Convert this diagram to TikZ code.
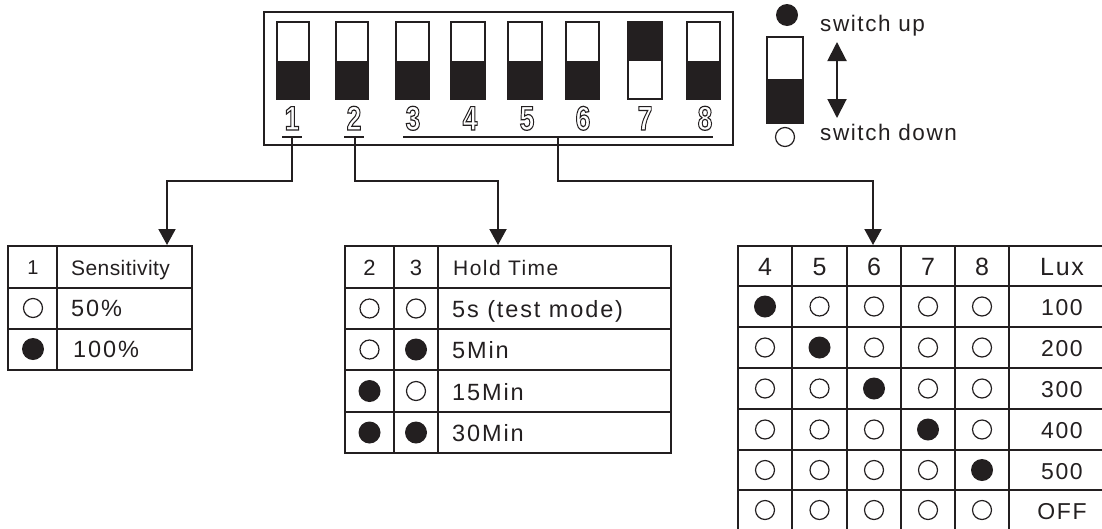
\documentclass[tikz,border=0pt]{standalone}
\usepackage{fontspec}
\setmainfont{Liberation Sans}
\newfontfamily\fsp{Liberation Sans}[LetterSpace=8]
\newfontfamily\fsh{Liberation Sans}[LetterSpace=7]
\newfontfamily\fss{Liberation Sans}[LetterSpace=2]
\usepackage{graphicx}
\usetikzlibrary{arrows.meta,calc}
\definecolor{ink}{RGB}{35,31,32}
\newcommand{\outlinedigit}[1]{\special{pdf:code q 1 Tr 1.2 w 0.137 0.122 0.125 RG}#1\special{pdf:code Q}}
\begin{document}
\begin{tikzpicture}[x=1pt,y=-1pt,
  boxst/.style={draw=ink,line width=2pt,inner sep=0pt},
  swst/.style={draw=ink,line width=2.5pt},
  barst/.style={draw=ink,line width=1.5pt},
  tline/.style={draw=ink,line width=1.6pt},
  conn/.style={draw=ink,line width=2pt,-{Triangle[width=17pt,length=16pt]}},
  oc/.style={circle,draw=ink,line width=1.2pt,minimum size=19pt,inner sep=0pt},
  fc/.style={circle,fill=ink,minimum size=22pt,inner sep=0pt},
  dig/.style={font=\fontsize{34}{38}\selectfont\bfseries,inner sep=0pt,anchor=base},
  rtxt/.style={font=\fontsize{23.5}{27}\fsp,text=ink,inner sep=0pt},
  htxt/.style={font=\fontsize{21}{25}\fsh,text=ink,inner sep=0pt},
  ttxt/.style={font=\fontsize{23}{26}\fsh,text=ink,inner sep=0pt},
  lgd/.style={font=\fontsize{22.5}{26}\fsh,text=ink,inner sep=0pt,anchor=base west}]
\useasboundingbox (0,0) rectangle (1102,528);

% ---------- DIP switch box ----------
\node[boxst,minimum width=469pt,minimum height=133pt] (box) at (498.5,78.5) {};
\foreach \l/\r/\a/\b/\c/\n in {277/309/61/99/292/1,336/368/61/99/354/2,396/429/61/99/413/3,451/485/61/99/470/4,508/542/61/99/527/5,566/599/61/99/583/6,628/662/22/61/645/7,687/720/61/99/705/8}{
  \fill[ink] (\l,\a) rectangle (\r,\b);
  \draw[swst] (\l,22) rectangle (\r,99);
  \node[dig] (d\n) at (\c,130) {\scalebox{0.78}[1]{\outlinedigit{\n}}};
}
% bars under the numbers
\draw[barst] (282,137) -- (302,137);
\draw[barst] (344,137) -- (364,137);
\draw[barst] (403,137) -- (713,137);
\coordinate (b1) at (292,137);
\coordinate (b2) at (355,137);
\coordinate (b3) at (558,137);
\coordinate (jy) at (0,181);
\coordinate (a1) at (167,245);
\coordinate (a2) at (498,245);
\coordinate (a3) at (873,245);
\draw[conn] (b1) -- (b1 |- jy) -| (a1);
\draw[conn] (b2) -- (b2 |- jy) -| (a2);
\draw[conn] (b3) -- (b3 |- jy) -| (a3);

% ---------- legend ----------
\node[fc] (up) at (787,15) {};
\fill[ink] (767,79) rectangle (803,123);
\draw[swst] (767,37) rectangle (803,123);
\node[oc] (dn) at (785,137) {};
\coordinate (ar1) at (837,42);
\coordinate (ar2) at (837,118);
\draw[ink,line width=2pt,{Triangle[width=19pt,length=19pt]}-{Triangle[width=19pt,length=19pt]}] (ar1) -- (ar2);
\node[lgd] (lup) at (820,31) {switch up};
\node[lgd] (ldn) at (820,140) {switch down};

% ---------- table 1 ----------
\draw[tline] (8,246) rectangle (192,370);
\draw[tline] (57,246) -- (57,370);
\draw[tline] (8,288) -- (192,288);
\draw[tline] (8,329) -- (192,329);
\node[htxt,anchor=base,font=\fontsize{20}{24}\fsh] (t1h1) at (33,274) {1};
\node[htxt,anchor=base west,font=\fontsize{21}{25}\fss] (t1h2) at (71,275) {Sensitivity};
\node[oc] (t1r1) at (33,308) {};
\node[rtxt,anchor=base west] (t1r1t) at (71,316.5) {50\%};
\node[fc] (t1r2) at (33,349) {};
\node[rtxt,anchor=base west] (t1r2t) at (73,357.5) {100\%};

% ---------- table 2 ----------
\draw[tline] (345,246) rectangle (671,453);
\foreach \x in {394,438} \draw[tline] (\x,246) -- (\x,453);
\foreach \y in {288,329,370,412} \draw[tline] (345,\y) -- (671,\y);
\node[ttxt,anchor=base,font=\fontsize{22}{26}\fsh] (t2h1) at (369.5,275) {2};
\node[ttxt,anchor=base,font=\fontsize{22}{26}\fsh] (t2h2) at (416,275) {3};
\node[htxt,anchor=base west] (t2h3) at (453,275) {Hold Time};
\foreach \y/\s/\t/\txt/\k in {308.5/oc/oc/{5s (test mode)}/1,349.5/oc/fc/5Min/2,391/fc/oc/15Min/3,432.5/fc/fc/30Min/4}{
  \node[\s] (t2a\k) at (369.5,\y) {};
  \node[\t] (t2b\k) at (416,\y) {};
  \node[rtxt,anchor=base west] (t2t\k) at (452,\y+9) {\txt};
}

% ---------- table 3 ----------
\draw[tline] (738,246) rectangle (1104,531);
\foreach \x in {792,847,901,955,1009} \draw[tline] (\x,246) -- (\x,531);
\foreach \y in {286,327,368,409,450,490} \draw[tline] (738,\y) -- (1104,\y);
\foreach \x/\n in {765/4,819.5/5,874/6,928/7,982/8}
  \node[font=\fontsize{25}{28}\selectfont,text=ink,inner sep=0pt,anchor=base] (t3h\n) at (\x,275) {\n};
\node[font=\fontsize{25}{28}\fsh,text=ink,inner sep=0pt,anchor=base] (t3lux) at (1062,275) {Lux};
\foreach \y/\r/\v in {306.5/1/100,347.5/2/200,388.5/3/300,429.5/4/400,470/5/500,510/6/OFF}{
  \foreach \x/\c in {765/1,819.5/2,874/3,928/4,982/5}{
    \ifnum\r=\c
      \node[fc] (t3c\r\c) at (\x,\y) {};
    \else
      \node[oc] (t3c\r\c) at (\x,\y) {};
    \fi
  }
  \node[ttxt,anchor=base] (t3v\r) at (1062,\y+9) {\v};
}
\end{tikzpicture}
\end{document}
